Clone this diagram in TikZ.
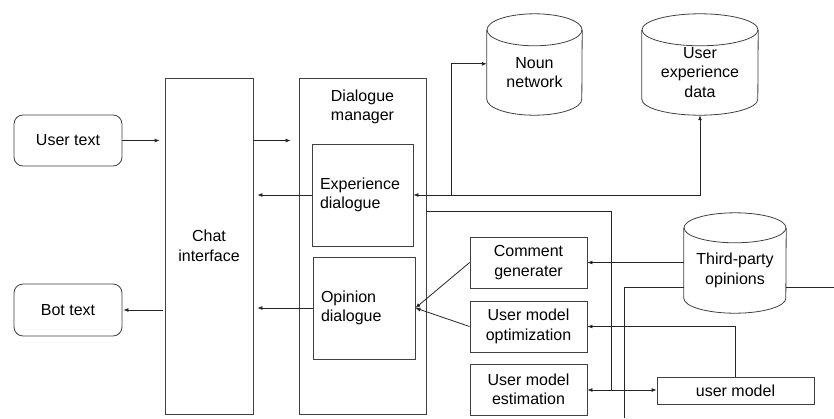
\documentclass[tikz,border=0pt]{standalone}
\usepackage{fontspec}
\setmainfont{Liberation Sans}
\usetikzlibrary{arrows.meta,calc}

% Outline of a database cylinder around a body node #1; #2 = x radius, #3 = y radius (pt)
\newcommand\dbcylinder[3]{%
  \draw[boxline] (#1.north west) -- ($(#1.south west)+(0,-#3)$)
    arc[start angle=180,end angle=360,x radius=#2pt,y radius=#3pt]
    -- (#1.north east);
  \draw[boxline] (#1.north) ellipse[x radius=#2pt,y radius=#3pt];
}

\tikzset{
  boxline/.style={draw=black!75,line width=0.8pt},
  txt/.style={font=\fontsize{16}{19.5}\selectfont,align=center},
  box/.style={boxline,txt,rectangle,inner sep=0pt},
  roundbox/.style={box,rounded corners=9pt},
  leftbox/.style={boxline,txt,align=left,inner ysep=0pt,inner xsep=8pt},
  body/.style={txt,rectangle,inner sep=0pt},
  conn/.style={draw=black!85,line width=0.8pt},
  arr/.style={conn,-{Latex[length=5pt,width=4pt]}},
  biarr/.style={conn,{Latex[length=5pt,width=4pt]}-{Latex[length=5pt,width=4pt]}},
}

\begin{document}
\begin{tikzpicture}[x=1pt,y=-1pt]
\useasboundingbox (0,0) rectangle (834,418);

% input / output text
\node[roundbox,minimum width=108,minimum height=51] (user) at (68,140.5) {User text};
\node[roundbox,minimum width=108,minimum height=52] (bot) at (68,310) {Bot text};

% chat interface and dialogue manager
\node[box,minimum width=88,minimum height=336] (chat) at (209,246) {Chat\\interface};
\node[box,minimum width=127,minimum height=336] (dm) at (362.5,246) {};
\node[txt] (dmtitle) at (362.5,107) {Dialogue\\manager};
\node[leftbox,text width=85,minimum height=102] (exp) at (362.5,195) {Experience\\dialogue};
\node[leftbox,text width=86,minimum height=102] (op) at (364,308) {Opinion\\dialogue};

% processing modules
\node[box,minimum width=117,minimum height=51] (cg) at (528.5,262.5) {Comment\\generater};
\node[box,minimum width=117,minimum height=51] (umo) at (528.5,326.5) {User model\\optimization};
\node[box,minimum width=117,minimum height=51] (ume) at (528.5,389.5) {User model\\estimation};
\node[box,minimum width=157,minimum height=27] (um) at (735.5,390.5) {user model};

% data stores
\node[body,minimum width=95,minimum height=85] (noun) at (534.5,72.5) {Noun\\network};
\dbcylinder{noun}{47.5}{16}
\node[body,minimum width=116,minimum height=85] (ued) at (700,72.5) {User\\experience\\data};
\dbcylinder{ued}{58}{16}
\node[body,minimum width=102,minimum height=85] (third) at (735,270.5) {Third-party\\opinions};
\dbcylinder{third}{51}{15}

% junction points
\coordinate (nounjoin) at (451,195);
\coordinate (umjoin) at (611,390);
\coordinate (tpin) at (624,418);
\coordinate (tpout) at (834,287);

% chat flow
\draw[arr,shorten >=5pt] (user.east) -- (user.east -| chat.west);
\draw[arr,shorten >=8pt] (chat.east |- user.east) -- (chat.east |- user.east -| dm.west);
\draw[arr,shorten >=4pt] (exp.west) -- (exp.west -| chat.east);
\draw[arr,shorten >=4pt] (op.west) -- (op.west -| chat.east);
\draw[arr] ($(chat.west)+(-2,64)$) -- ($(bot.east)+(1,0)$);

% experience dialogue and its stores
\draw[biarr] (exp.east) -- (exp.east -| ued.south) -- (ued.south);
\draw[arr] (nounjoin) |- ($(noun.north west)+(0,34)$);

% dialogue manager to the user model
\draw[conn] (dm.north east) ++(0,134) -| (umjoin);
\draw[arr] (umjoin) -- (umjoin -| um.west);
\draw[arr] (umjoin) -- (umjoin -| ume.east);

% opinion side
\draw[arr] (third.west |- cg.east) -- (cg.east);
\draw[arr] (um.north) |- (umo.east);
\draw[arr] (cg.west) -- (op.east);
\draw[arr] (umo.west) -- (op.east);
\draw[conn] (tpin) |- ($(third.west)+(0,16.5)$);
\draw[conn] ($(third.east)+(0,16.5)$) -- (tpout);
\end{tikzpicture}
\end{document}
